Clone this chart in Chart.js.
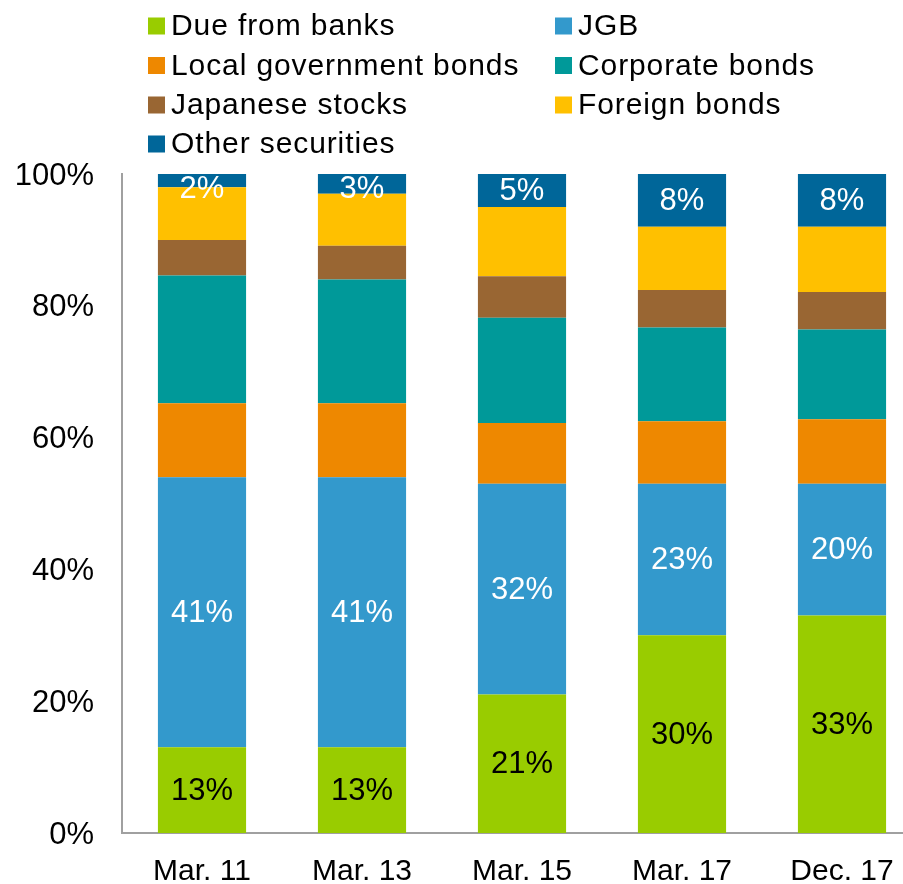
<!DOCTYPE html>
<html>
<head>
<meta charset="utf-8">
<script src="https://cdn.jsdelivr.net/npm/chart.js@4/dist/chart.umd.min.js"></script>
<style>
  html, body { margin: 0; padding: 0; overflow: hidden; background: #fff; }
  #wrap { position: relative; width: 922px; height: 884px; }
</style>
</head>
<body>
<div id="wrap"><canvas id="c"></canvas></div>
<script>
// Portfolio composition (% of total), one array per asset type
const categories = ['Mar. 11', 'Mar. 13', 'Mar. 15', 'Mar. 17', 'Dec. 17'];
const dueFromBanks    = [13, 13, 21, 30, 33];
const jgb             = [41, 41, 32, 23, 20];
const localGovBonds   = [11.2, 11.2, 9.2, 9.5, 9.8];
const corporateBonds  = [19.4, 18.8, 16.0, 14.2, 13.6];
const japaneseStocks  = [5.4, 5.1, 6.3, 5.7, 5.7];
const foreignBonds    = [8.0, 7.9, 10.5, 9.6, 9.9];
const otherSecurities = [2, 3, 5, 8, 8];
const yTicks = [0, 20, 40, 60, 80, 100];

const FONT = '"Liberation Sans", Arial, sans-serif';

function series(label, data, color, valueColor) {
  return { label, data, backgroundColor: color, borderWidth: 0, valueColor };
}

const datasets = [
  series('Due from banks', dueFromBanks, '#99CC00', '#000000'),
  series('JGB', jgb, '#3399CC', '#FFFFFF'),
  series('Local government bonds', localGovBonds, '#EE8800', null),
  series('Corporate bonds', corporateBonds, '#009999', null),
  series('Japanese stocks', japaneseStocks, '#996633', null),
  series('Foreign bonds', foreignBonds, '#FFC000', null),
  series('Other securities', otherSecurities, '#006699', '#FFFFFF')
];

// Two-column legend above the plot
const legendPlugin = {
  id: 'twoColLegend',
  afterDraw(chart) {
    const ctx = chart.ctx;
    const colX = [148, 555];
    const rowY = [26, 65.5, 105, 144];
    ctx.save();
    ctx.font = '30px ' + FONT;
    ctx.textBaseline = 'middle';
    ctx.textAlign = 'left';
    if ('letterSpacing' in ctx) ctx.letterSpacing = '0.9px';
    chart.data.datasets.forEach((ds, i) => {
      const x = colX[i % 2];
      const y = rowY[Math.floor(i / 2)];
      ctx.fillStyle = ds.backgroundColor;
      ctx.fillRect(x, y - 8.5, 17, 17);
      ctx.fillStyle = '#000';
      ctx.fillText(ds.label, x + 23, y + 1);
    });
    ctx.restore();
  }
};

// Percentage labels inside selected segments
const valuePlugin = {
  id: 'segmentValues',
  afterDatasetsDraw(chart) {
    const ctx = chart.ctx;
    ctx.save();
    ctx.font = '31px ' + FONT;
    ctx.textAlign = 'center';
    ctx.textBaseline = 'middle';
    chart.data.datasets.forEach((ds, di) => {
      if (!ds.valueColor) return;
      const meta = chart.getDatasetMeta(di);
      meta.data.forEach((bar, j) => {
        const p = bar.getProps(['x', 'y', 'base'], true);
        const mid = (p.y + p.base) / 2;
        const y = Math.max(mid, p.y + 14);
        ctx.fillStyle = ds.valueColor;
        ctx.fillText(Math.round(ds.data[j]) + '%', p.x, y + 1);
      });
    });
    ctx.restore();
  }
};

new Chart(document.getElementById('c'), {
  type: 'bar',
  data: { labels: categories, datasets },
  plugins: [legendPlugin, valuePlugin],
  options: {
    responsive: true,
    maintainAspectRatio: false,
    animation: false,
    layout: { padding: { top: 174, left: 0, right: 0, bottom: 0 } },
    datasets: { bar: { categoryPercentage: 1.0, barPercentage: 0.551 } },
    plugins: { legend: { display: false }, tooltip: { enabled: false } },
    scales: {
      x: {
        stacked: true,
        grid: { display: false, drawTicks: false },
        border: { display: true, color: '#A0A0A0', width: 2 },
        ticks: { color: '#000', font: { family: FONT, size: 30 }, padding: 21, maxRotation: 0 },
        afterFit(scale) { scale.height = 51; }
      },
      y: {
        stacked: true,
        min: 0,
        max: 100,
        afterBuildTicks(scale) { scale.ticks = yTicks.map(v => ({ value: v })); },
        grid: { display: false, drawTicks: false },
        border: { display: true, color: '#A0A0A0', width: 2 },
        ticks: {
          color: '#000',
          font: { family: FONT, size: 31 },
          padding: 28,
          labelOffset: 2,
          callback: v => v + '%'
        },
        afterFit(scale) { scale.width = 122; }
      }
    }
  }
});
</script>
</body>
</html>
